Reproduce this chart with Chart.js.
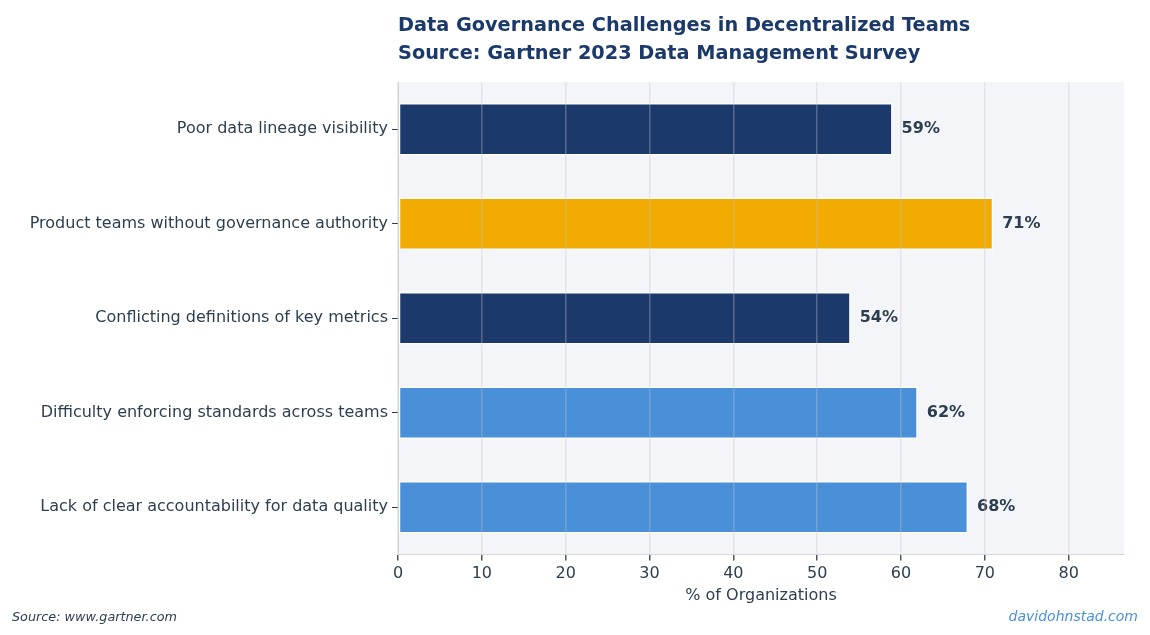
<!DOCTYPE html>
<html>
<head>
<meta charset="utf-8">
<script src="https://cdn.jsdelivr.net/npm/chart.js@4.4.7/dist/chart.umd.min.js"></script>
<style>
  html, body { margin: 0; padding: 0; background: #ffffff; }
  #wrap { width: 1150px; height: 635px; position: relative; }
</style>
</head>
<body>
<div id="wrap"><canvas id="chart"></canvas></div>
<script>
// Data
const categories = [
  'Poor data lineage visibility',
  'Product teams without governance authority',
  'Conflicting definitions of key metrics',
  'Difficulty enforcing standards across teams',
  'Lack of clear accountability for data quality',
];
const values = [59, 71, 54, 62, 68];
const barColors = ['#1b3a6b', '#f2ab00', '#1b3a6b', '#4a90d9', '#4a90d9'];
const xTicks = [0, 10, 20, 30, 40, 50, 60, 70, 80];

const titleLines = [
  'Data Governance Challenges in Decentralized Teams',
  'Source: Gartner 2023 Data Management Survey',
];

const FONT = "'DejaVu Sans', sans-serif";
const TEXT = '#2d3e50';

// plot background + titles + footnotes
const decorPlugin = {
  id: 'decor',
  beforeDraw(chart) {
    const { ctx, chartArea: a } = chart;
    ctx.save();
    ctx.fillStyle = '#f4f5f9';
    ctx.fillRect(a.left, a.top, a.right - a.left, a.bottom - a.top);
    ctx.restore();
  },
  afterDraw(chart) {
    const { ctx, chartArea: a } = chart;
    ctx.save();
    ctx.fillStyle = '#1b3a6b';
    ctx.font = `bold 19.3px ${FONT}`;
    ctx.textBaseline = 'alphabetic';
    ctx.textAlign = 'left';
    ctx.fillText(titleLines[0], a.left, 31);
    ctx.fillText(titleLines[1], a.left, 59);

    ctx.font = `italic 12.8px ${FONT}`;
    ctx.fillStyle = TEXT;
    ctx.fillText('Source: www.gartner.com', 12, 621);
    ctx.font = `italic 14px ${FONT}`;
    ctx.fillStyle = '#4a90d9';
    ctx.textAlign = 'right';
    ctx.fillText('davidohnstad.com', 1138, 621);
    ctx.restore();
  },
};

// value labels at bar ends
const valueLabels = {
  id: 'valueLabels',
  afterDatasetsDraw(chart) {
    const { ctx } = chart;
    const meta = chart.getDatasetMeta(0);
    ctx.save();
    ctx.font = `bold 16px ${FONT}`;
    ctx.fillStyle = TEXT;
    ctx.textAlign = 'left';
    ctx.textBaseline = 'middle';
    meta.data.forEach((bar, i) => {
      ctx.fillText(values[i] + '%', bar.x + 9, bar.y);
    });
    ctx.restore();
  },
};

new Chart(document.getElementById('chart'), {
  type: 'bar',
  data: {
    labels: categories,
    datasets: [{
      data: values,
      backgroundColor: barColors,
      borderColor: '#ffffff',
      borderWidth: 1.5,
      borderSkipped: false,
      barPercentage: 0.555,
      categoryPercentage: 1,
    }],
  },
  options: {
    indexAxis: 'y',
    responsive: true,
    maintainAspectRatio: false,
    animation: false,
    layout: { padding: { left: 0, right: 26, top: 82, bottom: 26 } },
    plugins: {
      legend: { display: false },
      tooltip: { enabled: false },
      title: { display: false },
    },
    scales: {
      x: {
        min: 0,
        max: 86.6,
        afterBuildTicks: (scale) => { scale.ticks = xTicks.map((v) => ({ value: v })); },
        grid: {
          z: 1,
          color: 'rgba(195, 196, 204, 0.35)',
          lineWidth: 1.5,
          tickColor: '#4a5563',
          tickLength: 6,
        },
        border: { z: 2, color: '#d6d7db', width: 1 },
        ticks: { color: TEXT, font: { family: FONT, size: 16 }, padding: 4 },
        title: {
          display: true,
          text: '% of Organizations',
          color: TEXT,
          font: { family: FONT, size: 16 },
          padding: { top: -2, bottom: 4 },
        },
      },
      y: {
        afterFit: (scale) => { scale.width = 398; },
        grid: {
          display: true,
          offset: false,
          drawOnChartArea: false,
          tickColor: TEXT,
          tickLength: 6,
        },
        border: { color: '#d6d7db', width: 1 },
        ticks: { color: TEXT, font: { family: FONT, size: 16 }, padding: 4 },
      },
    },
  },
  plugins: [decorPlugin, valueLabels],
});
</script>
</body>
</html>
